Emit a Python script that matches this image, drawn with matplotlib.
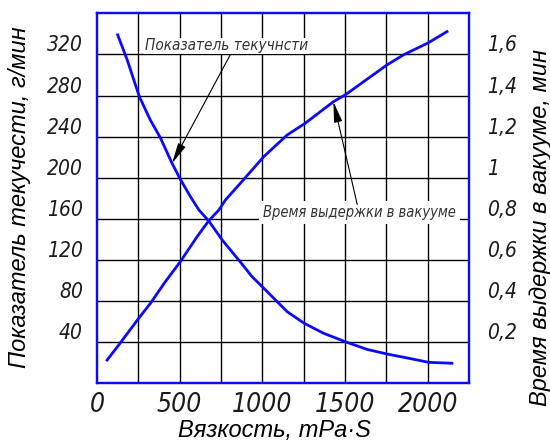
import matplotlib.pyplot as plt
import matplotlib.transforms as mtransforms
import numpy as np

# flow index curve (left axis), g/min
visc_flow = [125, 182, 256, 323, 383, 454, 504, 565, 616, 676, 757, 867, 938, 1003,
             1150, 1253, 1370, 1501, 1633, 1754, 1915, 2005, 2147]
flow_index = [339, 315, 279, 256, 239, 214, 198.5, 181.6, 168.7, 158, 139.5, 118, 103.7, 93.4,
              69.7, 58.4, 48.7, 40.5, 33, 28.5, 23.4, 20.4, 19.5]

# vacuum hold time (right axis), min
visc_time = [61, 131, 252, 323, 413, 504, 605, 676, 737, 777, 867, 1009, 1150,
             1259, 1430, 1501, 1754, 1854, 2005, 2117]
hold_time = [0.113, 0.186, 0.316, 0.389, 0.494, 0.592, 0.713, 0.791, 0.843, 0.892, 0.973, 1.103, 1.208,
             1.265, 1.370, 1.403, 1.549, 1.598, 1.657, 1.711]

x_ticks = [0, 500, 1000, 1500, 2000]
left_ticks = [40, 80, 120, 160, 200, 240, 280, 320]
right_ticks = [0.2, 0.4, 0.6, 0.8, 1.0, 1.2, 1.4, 1.6]
right_labels = ['0,2', '0,4', '0,6', '0,8', '1', '1,2', '1,4', '1,6']

blue = '#0a0aff'
txt = '#1c1c1c'
narrow = dict(family='DejaVu Sans', fontstretch='condensed', fontstyle='italic')

fig = plt.figure(figsize=(5.5, 4.4), dpi=100)
ax = fig.add_axes([97/550, 1-383.3/440, 372/550, 370/440])
ax2 = ax.twinx()

ax.set_xlim(0, 2250)
ax.set_ylim(0, 360)
ax2.set_ylim(0, 1.8)

# grid lines every 250 / 40
for gx in np.arange(250, 2250, 250):
    ax.axvline(gx, color='k', lw=1.0, zorder=0.5)
for gy in np.arange(40, 360, 40):
    ax.axhline(gy, color='k', lw=1.0, zorder=0.5)

ax.set_xticks(x_ticks)
ax.set_xticklabels([str(v) for v in x_ticks], fontsize=19, color=txt, **narrow)
ax.set_yticks(left_ticks)
ax.set_yticklabels([str(v) for v in left_ticks], fontsize=15, color=txt, **narrow)
ax2.set_yticks(right_ticks)
ax2.set_yticklabels(right_labels, fontsize=15, color=txt, **narrow)
ax.tick_params(which='both', length=0)
ax2.tick_params(which='both', length=0)
ax.tick_params(axis='y', pad=10)
ax.tick_params(axis='x', pad=6)
ax2.tick_params(axis='y', pad=13)

# labels sit above their grid lines
shift = mtransforms.ScaledTranslation(0, 0.11, fig.dpi_scale_trans)
for lab in ax.get_yticklabels() + ax2.get_yticklabels():
    lab.set_transform(lab.get_transform() + shift)

for a in (ax, ax2):
    for s in a.spines.values():
        s.set_color(blue)
        s.set_linewidth(1.6)

ax.plot(visc_flow, flow_index, color=blue, lw=2.0)
ax2.plot(visc_time, hold_time, color=blue, lw=2.0)

# leader notes
ax.text(290, 321, 'Показатель текучнсти', fontsize=11, color='#333333', va='bottom', ha='left',
        bbox=dict(facecolor='white', edgecolor='none', pad=0.5), zorder=3, **narrow)
ax.annotate('', xy=(454, 214), xytext=(807, 320),
            arrowprops=dict(arrowstyle='-|>,head_length=0.9,head_width=0.18', color='k',
                            lw=0.8, shrinkA=0, shrinkB=0, mutation_scale=14), zorder=4)

ax.text(1003, 166, 'Время выдержки в вакууме', fontsize=10.5, color='#333333', va='center', ha='left',
        bbox=dict(facecolor='white', edgecolor='none', pad=3), zorder=3, **narrow)
ax.annotate('', xy=(1430, 274), xytext=(1574, 174),
            arrowprops=dict(arrowstyle='-|>,head_length=0.9,head_width=0.18', color='k',
                            lw=0.8, shrinkA=0, shrinkB=0, mutation_scale=14), zorder=4)

sans = ['Liberation Sans', 'DejaVu Sans']
fig.text(274/550, 1-430/440, 'Вязкость, mPa·S', fontsize=17, fontstyle='italic',
         family=sans, color='k', ha='center', va='center')
fig.text(20/550, 1-197/440, 'Показатель текучести, г/мин', fontsize=17, fontstyle='italic',
         family=sans, color='k', ha='center', va='center', rotation=90)
fig.text(540/550, 1-228/440, 'Время выдержки в вакууме, мин', fontsize=17, fontstyle='italic',
         family=sans, color='k', ha='center', va='center', rotation=90)

fig.savefig('out.png', dpi=100)
